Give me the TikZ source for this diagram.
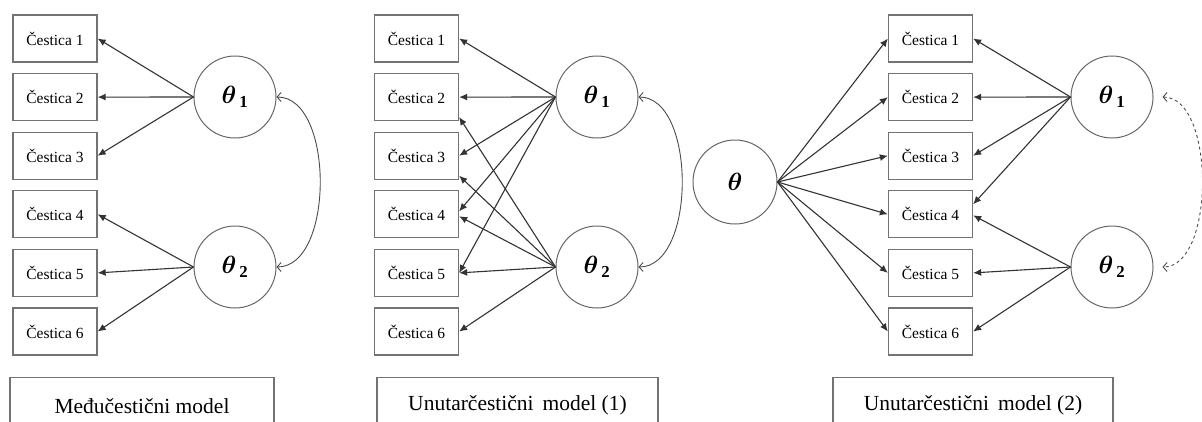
\documentclass[tikz,border=0pt]{standalone}
\usepackage{fontspec}
\setmainfont{Liberation Serif}
\usepackage{amsmath}
\usetikzlibrary{arrows.meta}
\tikzset{
  item/.style={draw=black!55,line width=1.3pt,minimum width=84pt,minimum height=47pt,inner sep=0pt,font=\fontsize{15.5}{17}\selectfont},
  latent/.style={circle,draw=black!60,line width=1pt,minimum size=82pt,inner sep=0pt,font=\fontsize{24}{26}\selectfont},
  modelbox/.style={draw=black!55,line width=1.3pt,minimum height=56pt,inner sep=0pt,anchor=north,font=\fontsize{21.5}{24}\selectfont},
  loading/.style={draw=black!80,line width=1.1pt,-{Latex[length=8pt,width=7pt]}},
  cov/.style={draw=black!70,line width=0.9pt,{Straight Barb[length=4pt,width=9pt]}-{Straight Barb[length=4pt,width=9pt]}},
}
\begin{document}
\begin{tikzpicture}[x=1pt,y=-1pt]
  \useasboundingbox (0,0) rectangle (1202,421);
  \foreach \i/\y in {1/38.5,2/97.1,3/155.7,4/214.3,5/272.9,6/331.5}{
    \node[item] (a\i) at (55,\y) {Čestica \i};
    \node[item] (b\i) at (416.5,\y) {Čestica \i};
    \node[item] (c\i) at (930.5,\y) {Čestica \i};
  }

  \node[latent] (ta1) at (235,97) {$\boldsymbol{\theta}_{\,\mathbf{1}}$};
  \node[latent] (ta2) at (235,267) {$\boldsymbol{\theta}_{\,\mathbf{2}}$};
  \foreach \i in {1,2,3} \draw[loading] (ta1.west) -- (a\i.east);
  \foreach \i in {4,5,6} \draw[loading] (ta2.west) -- (a\i.east);
  \draw[cov] (ta1.east) .. controls +(58,0) and +(58,0) .. (ta2.east);
  \node[modelbox,minimum width=264pt] (ma) at (142,377) {Međučestični model};

  \node[latent] (tb1) at (597,97) {$\boldsymbol{\theta}_{\,\mathbf{1}}$};
  \node[latent] (tb2) at (597,267) {$\boldsymbol{\theta}_{\,\mathbf{2}}$};
  \foreach \i in {1,2,3,5} \draw[loading] (tb1.west) -- (b\i.east);
  \draw[loading] (tb1.west) -- ([yshift=3pt]b4.east);
  \draw[loading] (tb2.west) -- ([yshift=-20pt]b2.east);
  \draw[loading] (tb2.west) -- ([yshift=-20pt]b3.east);
  \draw[loading] (tb2.west) -- ([yshift=-2pt]b4.east);
  \foreach \i in {5,6} \draw[loading] (tb2.west) -- (b\i.east);
  \draw[cov] (tb1.east) .. controls +(58,0) and +(58,0) .. (tb2.east);
  \node[modelbox,minimum width=281pt] (mb) at (517.5,377) {Unutarčestični\, model (1)};

  \node[latent,minimum size=84pt] (tc) at (735,182) {$\boldsymbol{\theta}$};
  \node[latent] (tc1) at (1112,97) {$\boldsymbol{\theta}_{\,\mathbf{1}}$};
  \node[latent] (tc2) at (1112,267) {$\boldsymbol{\theta}_{\,\mathbf{2}}$};
  \foreach \i in {1,...,6} \draw[loading] (tc.east) -- (c\i.west);
  \foreach \i in {1,2,3} \draw[loading] (tc1.west) -- (c\i.east);
  \draw[loading] (tc1.west) -- ([yshift=10pt]c4.east);
  \draw[loading] (tc2.west) -- ([yshift=-1pt]c4.east);
  \foreach \i in {5,6} \draw[loading] (tc2.west) -- (c\i.east);
  \draw[cov,dashed] ([xshift=9pt]tc1.east) .. controls +(53,0) and +(53,0) .. ([xshift=9pt]tc2.east);
  \node[modelbox,minimum width=280pt] (mc) at (973,377) {Unutarčestični\, model (2)};
\end{tikzpicture}
\end{document}
